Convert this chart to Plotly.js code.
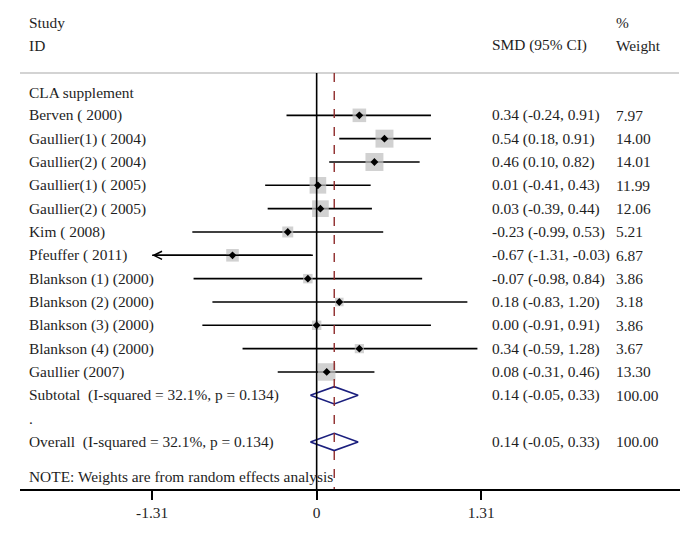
<!DOCTYPE html>
<html>
<head>
<meta charset="utf-8">
<script src="https://cdn.plot.ly/plotly-3.0.1.min.js"></script>
<style>html,body{margin:0;padding:0;background:#fff;}#chart{width:687px;height:547px;}</style>
</head>
<body>
<div id="chart"></div>
<script>
// ---- data ----
var groupLabel = "CLA supplement";
var studies = ["Berven ( 2000)", "Gaullier(1) ( 2004)", "Gaullier(2) ( 2004)", "Gaullier(1) ( 2005)",
  "Gaullier(2) ( 2005)", "Kim ( 2008)", "Pfeuffer ( 2011)", "Blankson (1) (2000)", "Blankson (2) (2000)",
  "Blankson (3) (2000)", "Blankson (4) (2000)", "Gaullier (2007)"];
var smd   = [0.34, 0.54, 0.46, 0.01, 0.03, -0.23, -0.67, -0.07, 0.18, 0.00, 0.34, 0.08];
var lower = [-0.24, 0.18, 0.10, -0.41, -0.39, -0.99, -1.31, -0.98, -0.83, -0.91, -0.59, -0.31];
var upper = [0.91, 0.91, 0.82, 0.43, 0.44, 0.53, -0.03, 0.84, 1.20, 0.91, 1.28, 0.46];
var weights = ["7.97", "14.00", "14.01", "11.99", "12.06", "5.21", "6.87", "3.86", "3.18", "3.86", "3.67", "13.30"];
var pooledLabels = ["Subtotal  (I-squared = 32.1%, p = 0.134)", "Overall  (I-squared = 32.1%, p = 0.134)"];
var pooledEst = [0.14, 0.14];
var pooledLo = [-0.05, -0.05];
var pooledHi = [0.33, 0.33];
var pooledWeight = ["100.00", "100.00"];
var tickVals = [-1.31, 0, 1.31];
var tickText = ["-1.31", "0", "1.31"];
var noteText = "NOTE: Weights are from random effects analysis";

// ---- layout helpers ----
var FONT = "Liberation Serif, Times New Roman, serif";
var TXT = "#1e1e1e";
var FS = 15.4;
var studyRows = studies.map(function(_, i){ return i + 1; });
var pooledRows = [13, 15];
var sepRow = 14;
var headerRows = [-3, -2];
var lineRow = -0.81;
var yBottom = 17.016, yTop = -3.943;
var xLeftTxt = 0.0112, xSmd = 0.7118, xW = 0.9003;

function fmt(v){ return v.toFixed(2); }
function ciText(e, l, h){ return fmt(e) + " (" + fmt(l) + ", " + fmt(h) + ")"; }

var traces = [];
// CI lines
var lx = [], ly = [];
for (var i = 0; i < studies.length; i++) {
  lx.push(lower[i], upper[i], null);
  ly.push(studyRows[i], studyRows[i], null);
}
traces.push({x: lx, y: ly, mode: "lines", line: {color: "#000", width: 1.6}, hoverinfo: "skip", showlegend: false});
// weight squares
traces.push({x: smd, y: studyRows, mode: "markers",
  marker: {symbol: "square", color: "#bdbdbd", size: weights.map(function(w){ return 4.8 * Math.sqrt(parseFloat(w)); }), line: {width: 0}},
  hoverinfo: "skip", showlegend: false});
// point estimates
traces.push({x: smd, y: studyRows, mode: "markers",
  marker: {symbol: "diamond", color: "#000", size: 6, line: {width: 0}}, hoverinfo: "skip", showlegend: false});
// pooled diamonds
var h = 0.37;
for (var k = 0; k < pooledEst.length; k++) {
  var r = pooledRows[k];
  traces.push({x: [pooledLo[k], pooledEst[k], pooledHi[k], pooledEst[k], pooledLo[k]],
    y: [r, r - h, r, r + h, r], mode: "lines", line: {color: "#1b1f7e", width: 1.6},
    hoverinfo: "skip", showlegend: false});
}

var ann = [];
function txt(x, y, s, yref){
  ann.push({x: x, xref: "paper", y: y, yref: yref || "y", text: s, showarrow: false,
    xanchor: "left", yanchor: "middle", font: {family: FONT, size: FS, color: TXT}});
}
txt(xLeftTxt, headerRows[0], "Study");
txt(xLeftTxt, headerRows[1], "ID");
txt(xSmd, headerRows[1], "SMD (95% CI)");
txt(xW, headerRows[0], "%");
txt(xW, headerRows[1], "Weight");
txt(xLeftTxt, 0, groupLabel);
for (var i = 0; i < studies.length; i++) {
  txt(xLeftTxt, studyRows[i], studies[i]);
  txt(xSmd, studyRows[i], ciText(smd[i], lower[i], upper[i]));
  txt(xW, studyRows[i], weights[i]);
}
for (var k = 0; k < pooledEst.length; k++) {
  txt(xLeftTxt, pooledRows[k], pooledLabels[k]);
  txt(xSmd, pooledRows[k], ciText(pooledEst[k], pooledLo[k], pooledHi[k]));
  txt(xW, pooledRows[k], pooledWeight[k]);
}
txt(xLeftTxt, sepRow, ".");
txt(xLeftTxt, 16.5, noteText);
// arrow for truncated CI
for (var i = 0; i < studies.length; i++) {
  if (lower[i] <= tickVals[0]) {
    ann.push({x: tickVals[0], y: studyRows[i], xref: "x", yref: "y", ax: upper[i], ay: studyRows[i],
      axref: "x", ayref: "y", text: "", showarrow: true, arrowhead: 5, arrowsize: 1, arrowwidth: 1.6,
      arrowcolor: "#000", standoff: 0, startstandoff: 0});
  }
}

var shapes = [
  {type: "line", xref: "paper", x0: 0, x1: 0.9985, yref: "y", y0: lineRow, y1: lineRow, line: {color: "#c4c4c4", width: 1.5}},
  {type: "line", xref: "x", x0: 0, x1: 0, yref: "y", y0: lineRow, y1: yBottom, line: {color: "#000", width: 1.6}},
  {type: "line", xref: "x", x0: pooledEst[1], x1: pooledEst[1], yref: "y", y0: lineRow, y1: yBottom, line: {color: "#8e2a2a", width: 1.4, dash: "dash"}}
];

var layout = {
  width: 687, height: 547,
  margin: {l: 20, r: 7, t: 0, b: 58, pad: 0},
  paper_bgcolor: "#fff", plot_bgcolor: "#fff",
  showlegend: false,
  xaxis: {range: [-2.362, 2.893], showgrid: false, zeroline: false, showline: true, linecolor: "#000", linewidth: 2,
    ticks: "outside", ticklen: 9, tickwidth: 2, tickcolor: "#000", tickvals: tickVals, ticktext: tickText,
    tickfont: {family: FONT, size: FS, color: TXT}, fixedrange: true},
  yaxis: {range: [yBottom, yTop], visible: false, showgrid: false, zeroline: false, fixedrange: true},
  annotations: ann,
  shapes: shapes
};
Plotly.newPlot("chart", traces, layout, {displayModeBar: false, staticPlot: true});
</script>
</body>
</html>
